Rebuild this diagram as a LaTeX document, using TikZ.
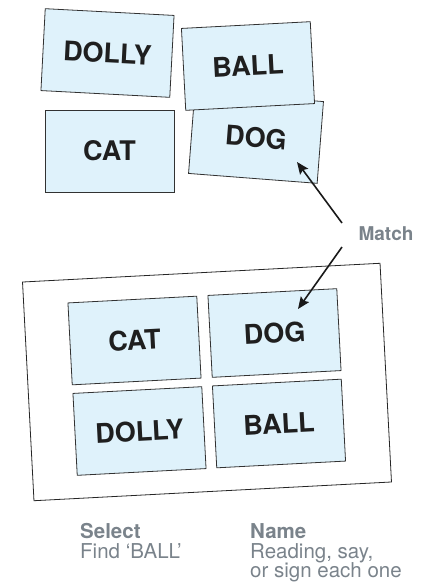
\documentclass[tikz,border=0pt]{standalone}
\usepackage{fontspec}
\setmainfont{TeX Gyre Heros}
\usetikzlibrary{arrows.meta}
\definecolor{cardblue}{RGB}{223,242,251}
\definecolor{labelgrey}{RGB}{122,131,139}
\definecolor{cardedge}{RGB}{50,50,50}
\tikzset{
  card/.style={draw=cardedge, line width=0.8pt, fill=cardblue,
    minimum width=129pt, minimum height=82pt, inner sep=0pt,
    font=\fontsize{27}{30}\selectfont\bfseries, text=black!88},
  frame/.style={draw=black!85, line width=0.8pt, fill=white,
    minimum width=358pt, minimum height=219pt, inner sep=0pt},
  matcharrow/.style={line width=1.6pt, black!90, -{Stealth[length=12pt,width=10pt,inset=2pt]}},
  greybold/.style={font=\fontsize{20.5}{21}\selectfont\bfseries, text=labelgrey, inner sep=0pt},
  greyreg/.style={font=\fontsize{20.5}{21}\selectfont, text=labelgrey, inner sep=0pt},
}
\begin{document}
\begin{tikzpicture}[x=1pt,y=-1pt]
\useasboundingbox (0,0) rectangle (445,587);
% top loose cards
\node[card, rotate=-3]   (dolly1) at (107.5,53)  {DOLLY};
\node[card, rotate=0]    (cat1)   at (109.5,151) {CAT};
\node[card, rotate=-4.4] (dog1)   at (256,137.5) {DOG};
\node[card, rotate=3]    (ball1)  at (248,66)    {BALL};
% bottom frame with cards
\node[frame, rotate=3] (board) at (207,382) {};
\node[card, rotate=3] (cat2)   at (134.5,340.5) {CAT};
\node[card, rotate=3] (dog2)   at (274.5,333)   {DOG};
\node[card, rotate=3] (dolly2) at (139.5,431)   {DOLLY};
\node[card, rotate=3] (ball2)  at (279,423.5)   {BALL};
% match label and arrows
\node[greybold, font=\fontsize{19}{19}\selectfont\bfseries] (match) at (386,234) {Match};
\coordinate (m1) at (342,223);
\coordinate (m2) at (342,247);
\coordinate (t1) at (297,162);
\coordinate (t2) at (298,309);
\draw[matcharrow] (m1) -- (t1);
\draw[matcharrow] (m2) -- (t2);
% bottom captions
\node[greybold, anchor=base west] (sel)   at (80,538.5)  {Select};
\node[greyreg,  anchor=base west] (find)  at (80,558)    {Find ‘BALL’};
\node[greybold, anchor=base west] (name)  at (250,538.5) {Name};
\node[greyreg,  anchor=base west] (read)  at (250,558)   {Reading, say,};
\node[greyreg,  anchor=base west] (sign)  at (250,577)   {or sign each one};
\end{tikzpicture}
\end{document}
